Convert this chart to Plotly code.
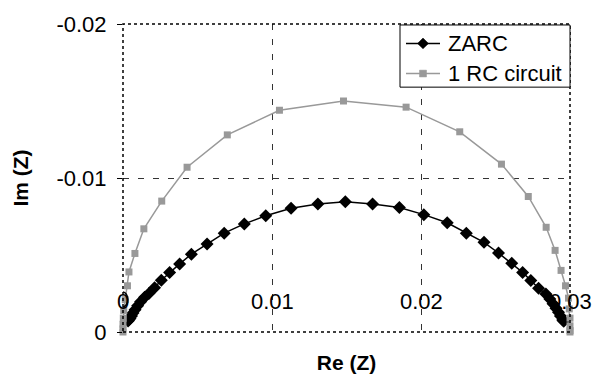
import plotly.graph_objects as go

# ZARC series (Re, Im)
zarc_re = [0.00034, 0.00040, 0.00047, 0.00057, 0.00067, 0.00081, 0.00098, 0.00118, 0.00145,
           0.00174, 0.00212, 0.00257, 0.00313, 0.00380, 0.00459, 0.00564, 0.00679, 0.00814,
           0.00958, 0.01128, 0.01308, 0.01492, 0.01675, 0.01855, 0.02019, 0.02176, 0.02304,
           0.02423, 0.02520, 0.02609, 0.02682, 0.02737, 0.02789, 0.02838, 0.02865, 0.02886,
           0.02906, 0.02923, 0.02936, 0.02951, 0.02958]
zarc_im = [-0.00072, -0.00080, -0.00088, -0.00104, -0.00123, -0.00145, -0.00170, -0.00196, -0.00225,
           -0.00250, -0.00288, -0.00336, -0.00387, -0.00442, -0.00505, -0.00572, -0.00642, -0.00702,
           -0.00755, -0.00803, -0.00831, -0.00845, -0.00831, -0.00808, -0.00762, -0.00709, -0.00642,
           -0.00582, -0.00513, -0.00446, -0.00387, -0.00334, -0.00284, -0.00246, -0.00215, -0.00183,
           -0.00155, -0.00129, -0.00104, -0.00078, -0.00070]

# 1 RC circuit series (Re, Im)
rc_re = [0.0000, 0.0000, 0.0000, 0.00002, 0.00005, 0.00015, 0.0003, 0.0004, 0.0008, 0.0014,
         0.0026, 0.0043, 0.0070, 0.0105, 0.0148, 0.0190, 0.0226, 0.0254, 0.0272, 0.0284,
         0.0290, 0.0294, 0.0297, 0.0299, 0.02995, 0.0300, 0.0300, 0.0300, 0.0300]
rc_im = [0.0, -0.0002, -0.0005, -0.0009, -0.0014, -0.0021, -0.0030, -0.0039, -0.0051, -0.0067,
         -0.0085, -0.0107, -0.0128, -0.0144, -0.0150, -0.0146, -0.0130, -0.0109, -0.0088, -0.0068,
         -0.0053, -0.0040, -0.0030, -0.0022, -0.0015, -0.0009, -0.0004, -0.0001, 0.0]

series_names = ["ZARC", "1 RC circuit"]

x_tick_vals = [0, 0.01, 0.02, 0.03]
x_tick_text = ["0", "0.01", "0.02", "0.03"]
y_tick_vals = [0, -0.01, -0.02]
y_tick_text = ["0", "-0.01", "-0.02"]

FONT = "Arial, Liberation Sans, sans-serif"
GREY = "#999999"

W, H = 602, 382
ML, MR, MT, MB = 123, 32, 17, 48
PW, PH = W - ML - MR, H - MT - MB


def px_x(px):
    return (px - ML) / PW


def px_y(py):
    return (H - MB - py) / PH


fig = go.Figure()
fig.add_trace(go.Scatter(
    x=zarc_re, y=zarc_im, mode="lines+markers", name=series_names[0],
    line=dict(color="black", width=1.5),
    marker=dict(symbol="diamond", size=10, color="black"),
    cliponaxis=False, showlegend=False,
))
fig.add_trace(go.Scatter(
    x=rc_re, y=rc_im, mode="lines+markers", name=series_names[1],
    line=dict(color=GREY, width=1.5),
    marker=dict(symbol="square", size=7, color=GREY),
    cliponaxis=False, showlegend=False,
))

fig.update_layout(
    width=W, height=H,
    margin=dict(l=ML, r=MR, t=MT, b=MB),
    paper_bgcolor="white", plot_bgcolor="white",
    font=dict(family=FONT, size=22, color="black"),
    showlegend=False,
    xaxis=dict(
        range=[0, 0.03], tickvals=x_tick_vals, showticklabels=False,
        showgrid=True, gridcolor="#333333", gridwidth=1, griddash="6px,9px",
        zeroline=False, showline=False, ticks="",
        title=dict(text="<b>Re (Z)</b>", font=dict(family=FONT, size=21), standoff=23),
    ),
    yaxis=dict(
        range=[0, -0.02], tickvals=y_tick_vals, ticktext=y_tick_text,
        tickfont=dict(family=FONT, size=22),
        showgrid=True, gridcolor="#333333", gridwidth=1, griddash="6px,9px",
        zeroline=False, showline=False, ticks="outside", ticklen=5, tickcolor="black",
        ticklabelstandoff=6,
        title=dict(text="<b>Im (Z)</b>", font=dict(family=FONT, size=21), standoff=22),
    ),
)

# Dotted plot-area border
fig.add_shape(type="rect", xref="paper", yref="paper", x0=0, y0=0, x1=1, y1=1,
              line=dict(color="black", width=1.5, dash="dot"), layer="above")

# X tick labels drawn inside the plot area, just above the bottom edge
for v, t in zip(x_tick_vals, x_tick_text):
    fig.add_annotation(x=v, y=-0.002, xref="x", yref="y", text=t, showarrow=False,
                       font=dict(family=FONT, size=22, color="black"),
                       xanchor="center", yanchor="middle")

# Small ellipse marking a point near the origin
fig.add_shape(type="circle", xref="x", yref="y", x0=-0.00035, x1=0.00032,
              y0=-0.00163, y1=-0.00260, line=dict(color="black", width=1.5))

# Legend box (drawn to match the compact boxed legend of the original)
fig.add_shape(type="rect", xref="paper", yref="paper",
              x0=px_x(400), x1=px_x(570), y0=px_y(82), y1=px_y(18),
              line=dict(color="black", width=1), fillcolor="white", layer="above")
legend_rows = [37, 68]
for name, row, color, sym in zip(series_names, legend_rows, ["black", GREY], ["diamond", "square"]):
    yc = px_y(row)
    fig.add_shape(type="line", xref="paper", yref="paper",
                  x0=px_x(406), x1=px_x(440), y0=yc, y1=yc,
                  line=dict(color=color, width=1.5), layer="above")
    cx = px_x(423)
    if sym == "diamond":
        dx, dy = 5.5 / PW, 5.5 / PH
        path = f"M {cx},{yc+dy} L {cx+dx},{yc} L {cx},{yc-dy} L {cx-dx},{yc} Z"
    else:
        dx, dy = 3.5 / PW, 3.5 / PH
        path = f"M {cx-dx},{yc-dy} L {cx+dx},{yc-dy} L {cx+dx},{yc+dy} L {cx-dx},{yc+dy} Z"
    fig.add_shape(type="path", xref="paper", yref="paper", path=path,
                  fillcolor=color, line=dict(color=color, width=0.5), layer="above")
    fig.add_annotation(x=px_x(446), y=yc, xref="paper", yref="paper", text=name,
                       showarrow=False, xanchor="left", yanchor="middle",
                       font=dict(family=FONT, size=22, color="black"))

fig.write_html("out.html")
